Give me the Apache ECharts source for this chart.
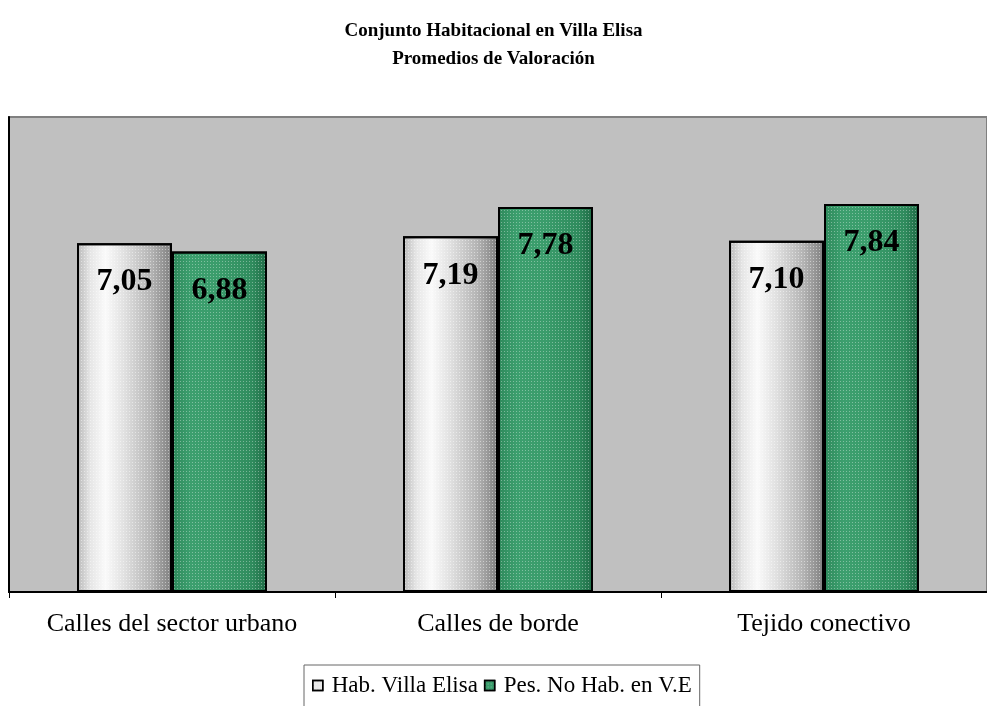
<!DOCTYPE html>
<html>
<head>
<meta charset="utf-8">
<script src="https://cdn.jsdelivr.net/npm/echarts@6/dist/echarts.min.js"></script>
<style>
  html, body { margin: 0; padding: 0; background: #ffffff; }
  #chart { width: 987px; height: 706px; }
</style>
</head>
<body>
<div id="chart"></div>
<script>
// Average ratings per zone for each group of respondents
const categories = ['Calles del sector urbano', 'Calles de borde', 'Tejido conectivo'];
const habVillaElisa = [7.05, 7.19, 7.10];
const pesNoHab = [6.88, 7.78, 7.84];
const seriesNames = ['Hab. Villa Elisa', 'Pes. No Hab. en V.E'];

const serif = '"Liberation Serif", "Times New Roman", serif';

// Cylinder-like shading across each bar
const grayFill = new echarts.graphic.LinearGradient(0, 0, 1, 0, [
  { offset: 0, color: '#b8b8b8' },
  { offset: 0.14, color: '#e6e6e6' },
  { offset: 0.3, color: '#fafafa' },
  { offset: 0.5, color: '#e0e0e0' },
  { offset: 0.78, color: '#b4b4b4' },
  { offset: 1, color: '#7e7e7e' }
]);
const greenFill = new echarts.graphic.LinearGradient(0, 0, 1, 0, [
  { offset: 0, color: '#2e895b' },
  { offset: 0.2, color: '#3c9f6e' },
  { offset: 0.5, color: '#3a9c6b' },
  { offset: 0.85, color: '#2f8b5d' },
  { offset: 1, color: '#1f6a45' }
]);

// Fine dotted texture over the bars
const dots = (c) => ({
  symbol: 'rect',
  symbolSize: 1,
  color: c,
  dashArrayX: [1, 2],
  dashArrayY: [1, 2],
  rotation: 0
});

const valueLabel = {
  show: true,
  position: 'insideTop',
  distance: 23,
  fontFamily: serif,
  fontWeight: 'bold',
  fontSize: 32,
  color: '#000',
  formatter: (p) => p.value.toFixed(2).replace('.', ',')
};

const chart = echarts.init(document.getElementById('chart'), null, { renderer: 'canvas' });

chart.setOption({
  backgroundColor: '#ffffff',
  animation: false,
  aria: { enabled: true, decal: { show: true } },
  title: {
    text: 'Conjunto Habitacional en Villa Elisa\nPromedios de Valoración',
    left: 'center',
    top: 12,
    textStyle: {
      fontFamily: serif,
      fontWeight: 'bold',
      fontSize: 19,
      lineHeight: 28,
      color: '#000'
    }
  },
  legend: {
    left: 304,
    top: 665,
    orient: 'horizontal',
    backgroundColor: '#ffffff',
    borderColor: '#666666',
    borderWidth: 1,
    borderRadius: 0,
    padding: [9, 8, 30, 8],
    itemGap: 6,
    itemWidth: 10,
    itemHeight: 10,
    textStyle: { fontFamily: serif, fontSize: 23, color: '#000', padding: [0, 0, 0, 4] },
    data: [
      { name: seriesNames[0], icon: 'rect', itemStyle: { color: '#e8e8e8', borderColor: '#000', borderWidth: 1.5 } },
      { name: seriesNames[1], icon: 'rect', itemStyle: { color: '#3a9d6c', borderColor: '#000', borderWidth: 1.5 } }
    ]
  },
  grid: {
    left: 9,
    right: -15,
    top: 117,
    bottom: 706 - 592,
    show: true,
    backgroundColor: '#c0c0c0',
    borderColor: '#808080',
    borderWidth: 2
  },
  xAxis: {
    type: 'category',
    data: categories,
    axisLine: { show: true, lineStyle: { color: '#000', width: 2 } },
    axisTick: { show: true, length: 6, lineStyle: { color: '#000', width: 1 } },
    axisLabel: { margin: 19, fontFamily: serif, fontSize: 26, color: '#000' }
  },
  yAxis: {
    type: 'value',
    min: 0,
    max: 9.6,
    axisLine: { show: true, lineStyle: { color: '#000', width: 2 } },
    axisTick: { show: false },
    axisLabel: { show: false },
    splitLine: { show: false }
  },
  series: [
    {
      name: seriesNames[0],
      type: 'bar',
      data: habVillaElisa,
      barWidth: 95,
      barGap: '0%',
      itemStyle: {
        color: grayFill,
        borderColor: '#000',
        borderWidth: 2,
        decal: dots('rgba(255,255,255,0.45)')
      },
      label: valueLabel
    },
    {
      name: seriesNames[1],
      type: 'bar',
      data: pesNoHab,
      barWidth: 95,
      barGap: '0%',
      itemStyle: {
        color: greenFill,
        borderColor: '#000',
        borderWidth: 2,
        decal: dots('rgba(255,255,255,0.35)')
      },
      label: valueLabel
    }
  ]
});
</script>
</body>
</html>
